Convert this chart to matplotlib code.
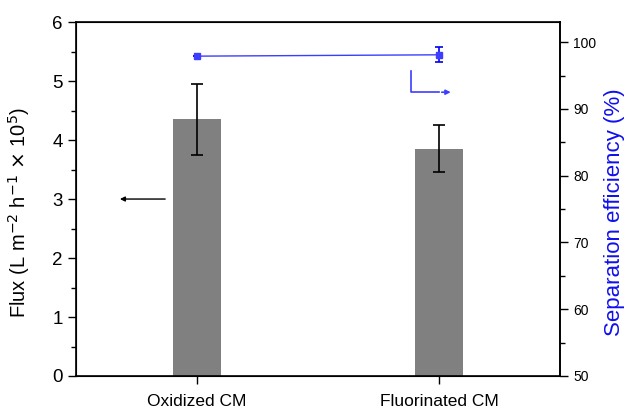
import numpy as np
import matplotlib.pyplot as plt
from matplotlib.ticker import MultipleLocator

plt.rcParams['font.family'] = ['Liberation Sans', 'DejaVu Sans']

# données
categories = ['Oxidized CM', 'Fluorinated CM']
flux = [4.35, 3.85]
flux_err = [0.6, 0.4]
efficiency = [97.9, 98.1]
efficiency_err = [0.0, 1.15]

x = np.arange(len(categories))

fig = plt.figure(figsize=(6.27, 4.09), dpi=100)
ax = fig.add_axes([0.1212, 0.0807, 0.7719, 0.8653])

ax.bar(x, flux, width=0.2, color='#808080', zorder=2)
ax.errorbar(x, flux, yerr=flux_err, fmt='none', ecolor='black',
            elinewidth=1.2, capsize=4, capthick=1.2, zorder=3)
ax.set_xlim(-0.5, 1.5)
ax.set_ylim(0, 6)
ax.set_xticks(x)
ax.set_xticklabels(categories, fontsize=12.5)
ax.yaxis.set_major_locator(MultipleLocator(1))
ax.yaxis.set_minor_locator(MultipleLocator(0.5))
ax.tick_params(axis='y', labelsize=13.5, direction='out', length=6, width=1)
ax.tick_params(axis='y', which='minor', length=3.5, width=1)
ax.tick_params(axis='x', direction='out', length=6, width=1, pad=7)
ax.set_ylabel(r'Flux (L m$^{\mathsf{-2}}$ h$^{\mathsf{-1}}$ $\times$ 10$^{\mathsf{5}}$)',
              fontsize=14.5)
ax.yaxis.set_label_coords(-0.09, 0.463)
for s in ax.spines.values():
    s.set_linewidth(1.2)

# flèche noire -> axe gauche
ax.annotate('', xy=(-0.33, 3.0), xytext=(-0.12, 3.0),
            arrowprops=dict(arrowstyle='-|>', color='black', lw=1, mutation_scale=7))

ax2 = ax.twinx()
ax2.errorbar(x, efficiency, yerr=efficiency_err, fmt='s-', color='#0000ee',
             markersize=5, lw=1, ecolor='#0000ee', elinewidth=1.2,
             capsize=3, capthick=1.2, zorder=4)
ax2.get_lines()[0].set_color('#3d3dff')
ax2.set_ylim(50, 103)
ax2.yaxis.set_major_locator(MultipleLocator(10))
ax2.yaxis.set_minor_locator(MultipleLocator(5))
ax2.tick_params(axis='y', labelsize=10, direction='out', length=6, width=1)
ax2.tick_params(axis='y', which='minor', length=3.5, width=1)
ax2.set_ylabel('Separation efficiency (%)', fontsize=16, color='#1010ee')
ax2.yaxis.set_label_coords(1.09, 0.463)
ax2.spines['right'].set_linewidth(1.2)

# flèche bleue -> axe droit
ax2.plot([0.883, 0.883, 1.0], [95.6, 92.5, 92.5], color='#3d3dff', lw=1.2)
ax2.annotate('', xy=(1.06, 92.5), xytext=(1.0, 92.5),
             arrowprops=dict(arrowstyle='-|>', color='#3d3dff', lw=1.2, mutation_scale=7))

fig.savefig('out.png', dpi=100)
